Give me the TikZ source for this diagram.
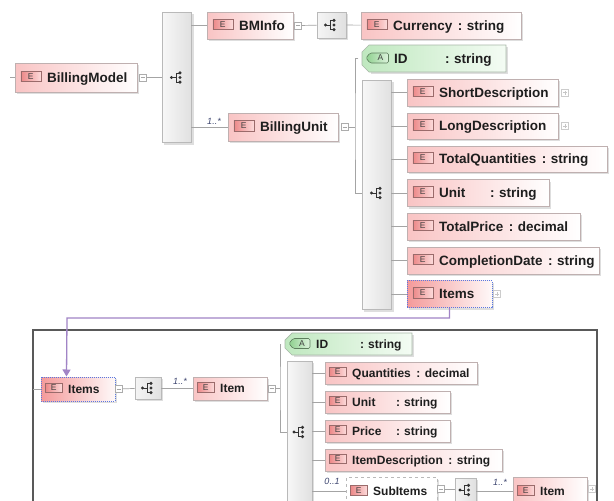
\documentclass[tikz,border=0pt]{standalone}
\usepackage{fontspec}
\setmainfont{Liberation Sans}
\usetikzlibrary{fit,arrows.meta}

\definecolor{elpink}{HTML}{F9C4C4}
\definecolor{elborder}{HTML}{BFB0B0}
\definecolor{selred}{HTML}{F49A9A}
\definecolor{selblue}{HTML}{5A78E0}
\definecolor{badgeL}{HTML}{EC8888}
\definecolor{badgeR}{HTML}{FCDADA}
\definecolor{badgeD}{HTML}{9A6B6B}
\definecolor{attrL}{HTML}{BFE8BF}
\definecolor{attrR}{HTML}{F4FCF4}
\definecolor{attrD}{HTML}{A8B8A8}
\definecolor{abadgeL}{HTML}{8ED08E}
\definecolor{abadgeR}{HTML}{DDF3DD}
\definecolor{abadgeD}{HTML}{5E7F5E}
\definecolor{connc}{HTML}{A4A4A4}
\definecolor{refc}{HTML}{A184C6}
\definecolor{multc}{HTML}{3E4670}
\definecolor{txt}{HTML}{1E1E1E}

\def\lblfont{\fontsize{13.5}{14}\selectfont\bfseries}
\def\bo{5.5}\def\to{32}\def\ato{32}\def\bw{20pt}\def\bh{10.5pt}\def\capoff{4.8}

% element box: name, x1, y1, x2, y2, style, label
\newcommand\elem[7]{%
  \fill[shade] (#2+2,#3+2) rectangle (#4+2,#5+2);
  \node[#6, fit={(#2,#3)(#4,#5)}] (#1) {};
  \node[ebadge, minimum width=\bw, minimum height=\bh, anchor=west] (#1-b) at (#2+\bo,{(#3+#5)/2-1}) {E};
  \node[lbl, anchor=base west] (#1-t) at (#2+\to,{(#3+#5)/2+\capoff}) {#7};
}
% attribute: name, x1, y1, x2, y2, label
\newcommand\attr[6]{%
  \fill[shade] (#2+9,#3+2) -- (#4+2,#3+2) -- (#4+2,#5+2) -- (#2+9,#5+2) -- cycle;
  \path[attrbox] (#2+7,#3) -- (#4,#3) -- (#4,#5) -- (#2+7,#5) -- (#2,#5-7) -- (#2,#3+7) -- cycle;
  \node[fit={(#2,#3)(#4,#5)}] (#1) {};
  \path[abadge] (#2+8,{(#3+#5)/2-5.5}) -- (#2+\bo+21,{(#3+#5)/2-5.5}) -- (#2+\bo+21,{(#3+#5)/2+4.5}) -- (#2+8,{(#3+#5)/2+4.5}) -- (#2+4,{(#3+#5)/2-0.5}) -- cycle;
  \node[abl] (#1-b) at ({#2+\bo+13},{(#3+#5)/2-0.5}) {A};
  \node[lbl, anchor=base west] (#1-t) at (#2+\ato,{(#3+#5)/2+\capoff}) {#6};
}
% compositor icon
\newcommand\seqicon[2]{%
  \begin{scope}[shift={(#1,#2)}, line width=0.8pt, draw=black!80, fill=black!80]
    \fill (-5.5,0) circle (1.7);
    \draw (-5.5,0) -- (-1,0) (-1,-4.6) -- (-1,4.6)
          (-1,-4.6) -- (2.5,-4.6) (-1,4.6) -- (2.5,4.6);
    \fill (3,-4.6) circle (1.7) (3,0) circle (1.7) (3,4.6) circle (1.7);
  \end{scope}}
\newcommand\collapse[3]{%
  \node[togg] (#1) at (#2,#3) {};
  \draw[gray!70, line width=0.5pt] ([xshift=-2pt]#1.center) -- ([xshift=2pt]#1.center);}
\newcommand\expand[3]{%
  \node[togg, draw=gray!40] (#1) at (#2,#3) {};
  \draw[gray!45, line width=0.5pt] ([xshift=-2pt]#1.center) -- ([xshift=2pt]#1.center)
        ([yshift=-2pt]#1.center) -- ([yshift=2pt]#1.center);}
\newcommand\ty[2]{#1\hspace{5.5pt}:\hspace{4.5pt}#2}

\begin{document}
\begin{tikzpicture}[x=1pt, y=-1pt,
  shade/.style={fill=black!13},
  elbox/.style={draw=elborder, line width=0.7pt, left color=elpink, right color=white, inner sep=0},
  selbox/.style={draw=selblue, line width=1pt, densely dotted, left color=selred, right color=white!94!selred, inner sep=0},
  subbox/.style={draw=gray!55, line width=0.8pt, dashed, fill=white, inner sep=0},
  ebadge/.style={draw=badgeD, line width=0.6pt, left color=badgeL, right color=badgeR, inner sep=0,
    font=\fontsize{8.5}{9}\selectfont, text=black!75},
  attrbox/.style={draw=attrD, line width=0.7pt, left color=attrL, right color=attrR},
  abadge/.style={draw=abadgeD, line width=0.6pt, left color=abadgeL, right color=abadgeR, rounded corners=1.5pt},
  abl/.style={inner sep=0, font=\fontsize{8.5}{9}\selectfont, text=black!75},
  lbl/.style={inner sep=0, font=\lblfont, text=txt},
  bar/.style={draw=gray!55, line width=0.7pt, left color=gray!6, right color=gray!24, inner sep=0},
  seqbox/.style={draw=gray!55, line width=0.7pt, left color=gray!8, right color=gray!24, inner sep=0},
  togg/.style={draw=gray!65, fill=white, line width=0.5pt, minimum size=7pt, inner sep=0},
  conn/.style={draw=connc, line width=0.7pt},
  refline/.style={draw=refc, line width=1.3pt, -{Triangle[width=8pt,length=7pt]}},
  mult/.style={inner sep=0, font=\fontsize{9}{9}\selectfont\itshape, text=multc},
  frame/.style={draw=black!65, line width=1.3pt}]
\useasboundingbox (0,0) rectangle (614,501);
\clip (0,0) rectangle (614,501);
\fill[white] (0,0) rectangle (614,501);

% ---------------- BillingModel ----------------
\coordinate (bm-in) at (10,77.5);
\coordinate (j1) at (355,127);
\coordinate (s3i) at (372,193);

\elem{bm}{15}{63}{137}{92}{elbox}{BillingModel}
\collapse{bm-c}{143}{77.5}
\fill[shade] (164,14) rectangle (194,145);
\node[bar, fit={(162,12)(191,142)}] (seq1) {};
\seqicon{177}{77.5}
\draw[conn] (bm-in) -- (bm.west);
\draw[conn] (bm-c) -- (bm-c -| seq1.west);

\elem{bmi}{207}{12}{293}{39}{elbox}{BMInfo}
\draw[conn] (seq1.east |- bmi.west) -- (bmi.west);
\collapse{bmi-c}{298}{25.5}
\fill[shade] (319,14) rectangle (348,40);
\node[seqbox, fit={(317,12)(346,38)}] (seq2) {};
\seqicon{331}{25}
\elem{cur}{361}{12}{521}{39}{elbox}{\ty{Currency}{string}}
\draw[conn] (bmi-c) -- (seq2);
\draw[conn] (seq2) -- (cur);

\elem{bu}{228}{113}{338}{141}{elbox}{BillingUnit}
\draw[conn] (seq1.east |- bu.west) -- (bu.west);
\node[mult] (bu-m) at (214,121) {1..*};
\collapse{bu-c}{344.5}{127}

% BillingUnit content
\attr{id1}{362}{45}{506}{72}{\makebox[51pt][l]{ID}:\hspace{4.5pt}string}
\draw[conn] (bu-c) -- (j1);
\draw[conn] (id1.west) -| (j1) |- (s3i);
\fill[shade] (364,82) rectangle (394,312);
\node[bar, fit={(362,80)(391,309)}] (seq3) {};
\seqicon{377}{193}

\elem{sd}{407}{79}{558}{106}{elbox}{ShortDescription}
\expand{sd-x}{565}{92.5}
\elem{ld}{407}{113}{558}{139}{elbox}{LongDescription}
\expand{ld-x}{565}{126}
\elem{tq}{407}{146}{607}{172}{elbox}{\ty{TotalQuantities}{string}}
\elem{un}{407}{179.5}{549}{206.5}{elbox}{\makebox[51pt][l]{Unit}:\hspace{4.5pt}string}
\elem{tp}{407}{213}{580}{240}{elbox}{\ty{TotalPrice}{decimal}}
\elem{cd}{407}{247}{599}{274}{elbox}{\ty{CompletionDate}{string}}
\elem{it}{407}{280.5}{492}{307.5}{selbox}{Items}
\expand{it-x}{497}{294}
\foreach \n in {sd,ld,tq,un,tp,cd,it}
  \draw[conn] (seq3.east |- \n.west) -- (\n.west);

% ---------------- Items definition ----------------
\def\lblfont{\fontsize{12}{12.5}\selectfont\bfseries}
\def\bo{4}\def\to{27}\def\ato{31}\def\bw{17pt}\def\bh{9.5pt}\def\capoff{4.3}

\draw[frame] (33,330) rectangle (597,520);
\coordinate (it2-in) at (33,389);
\coordinate (j2) at (280,388.5);
\coordinate (s5i) at (293,432);
\coordinate (ref-turn) at (67,318);

\elem{it2}{41}{377}{115}{401}{selbox}{Items}
\draw[conn] (it2-in) -- (it2.west);
\collapse{it2-c}{118.5}{389}
\fill[shade] (137,379) rectangle (163,401);
\node[seqbox, fit={(135,377)(161,399)}] (seq4) {};
\seqicon{148}{388}
\draw[conn] (it2-c) -- (seq4);
\elem{item}{193}{377}{267}{400}{elbox}{Item}
\draw[conn] (seq4) -- (seq4 -| item.west);
\node[mult] (item-m) at (180,381) {1..*};
\collapse{item-c}{271.5}{388.5}

\attr{id2}{285}{333}{412}{355}{\makebox[44pt][l]{ID}:\hspace{4pt}string}
\draw[conn] (item-c) -- (j2);
\draw[conn] (id2.west) -| (j2) |- (s5i);
\fill[shade] (289,363) rectangle (314,520);
\node[bar, fit={(287,361)(312,520)}] (seq5) {};
\seqicon{299.5}{432}

\elem{q}{325}{362}{477}{384}{elbox}{\ty{Quantities}{decimal}}
\elem{u2}{325}{391}{450}{413}{elbox}{\makebox[44pt][l]{Unit}:\hspace{4pt}string}
\elem{pr}{325}{420}{450}{442}{elbox}{\makebox[44pt][l]{Price}:\hspace{4pt}string}
\elem{ids}{325}{449}{502}{471}{elbox}{\ty{ItemDescription}{string}}
\elem{sub}{346}{477.5}{437}{505}{subbox}{SubItems}
\foreach \n in {q,u2,pr,ids,sub}
  \draw[conn] (seq5.east |- \n.west) -- (\n.west);
\node[mult] (sub-m) at (332,481) {0..1};
\collapse{sub-c}{440.5}{489}
\fill[shade] (457,480) rectangle (478,520);
\node[seqbox, fit={(455,478)(476,520)}] (seq6) {};
\seqicon{465.5}{490}
\draw[conn] (sub-c) -- (sub-c -| seq6.west);
\elem{item2}{513}{477.5}{587}{505}{elbox}{Item}
\draw[conn] (seq6.east |- item2.west) -- (item2.west);
\node[mult] (item2-m) at (500,482) {1..*};
\expand{item2-x}{592}{489}

% reference from the global Items declaration
\draw[refline] (it.south) |- (ref-turn) -- ([xshift=26pt]it2.north west);
\end{tikzpicture}
\end{document}
